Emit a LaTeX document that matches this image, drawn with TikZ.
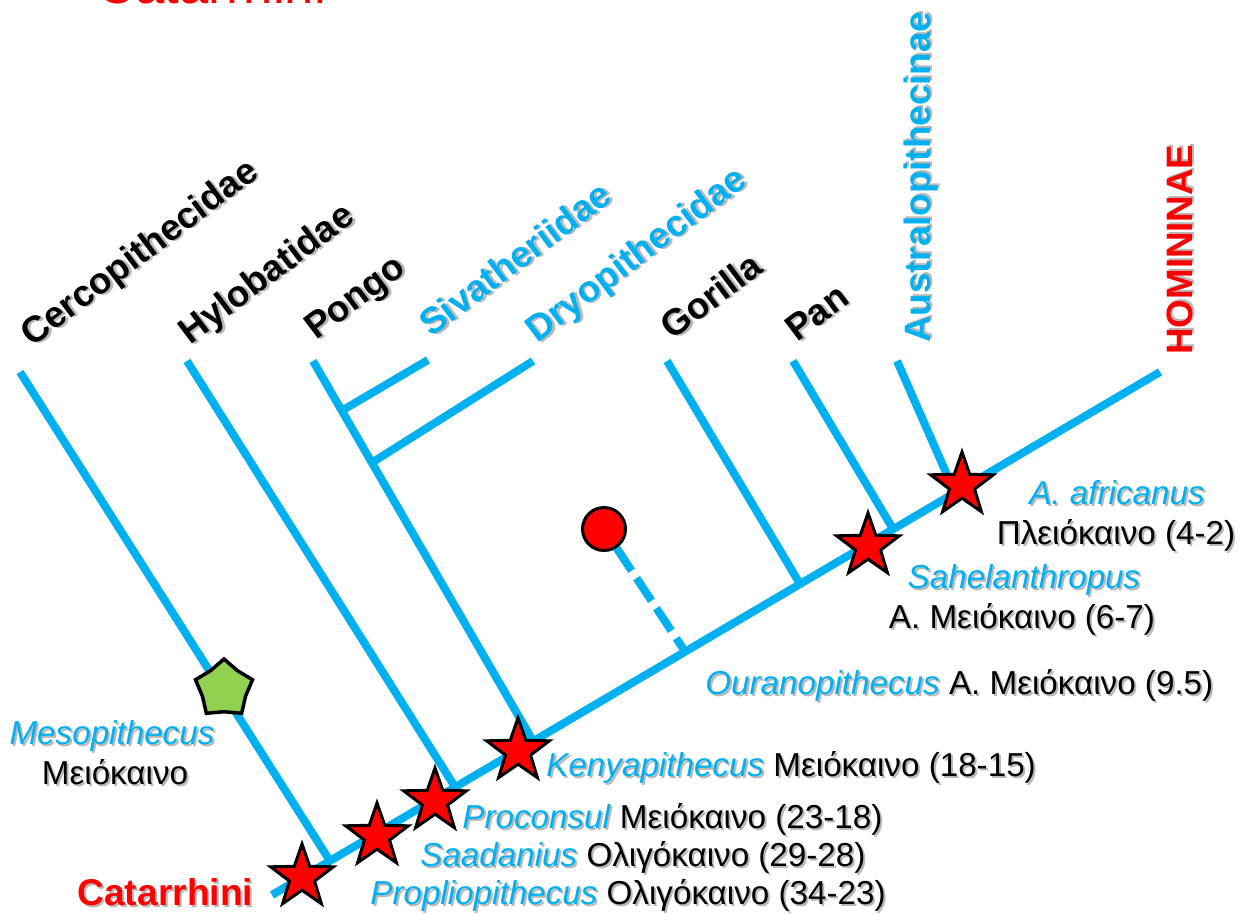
\documentclass[tikz,border=0pt]{standalone}
\usepackage{fontspec}
\setmainfont{Liberation Sans}
\usetikzlibrary{shapes.geometric}
\definecolor{cblue}{HTML}{00B0F0}
\definecolor{cred}{HTML}{FF0000}
\definecolor{cgreen}{HTML}{92D050}
\newcommand\shd[1]{\leavevmode\rlap{\kern0.04cm\raisebox{-0.04cm}{\color{black!28}#1}}#1}
\newcommand\myBody{\fontsize{18.9}{22}\selectfont}
\newcommand\myLab{\fontsize{20.9}{24}\selectfont\bfseries}
\tikzset{
  br/.style={draw=cblue, line width=0.16cm},
  lab/.style={anchor=base west, rotate=37, font=\myLab, inner sep=0},
  vlab/.style={anchor=base west, rotate=90, font=\myLab, inner sep=0},
  body/.style={font=\myBody, inner sep=0, text=black},
  fstar/.style={star, star points=5, star point ratio=2.5, fill=cred, draw=black, line width=0.06cm, minimum size=1.32cm, inner sep=0},
  pent/.style={star, star points=5, star point ratio=1.32, fill=cgreen, draw=black, line width=0.07cm, minimum size=1.2cm, inner sep=0},
  dot/.style={circle, fill=cred, draw=black, line width=0.06cm, minimum size=0.86cm, inner sep=0},
}
\begin{document}
\begin{tikzpicture}[x=0.02cm, y=-0.02cm]
\useasboundingbox (0,0) rectangle (1243,915);
\clip (0,0) rectangle (1243,915);
% coordinates
\coordinate (T0) at (272,895);
\coordinate (T1) at (1160,372);
\coordinate (bCer) at (330,861); \coordinate (tCer) at (20,372);
\coordinate (bHyl) at (455,787); \coordinate (tHyl) at (187,361);
\coordinate (bPon) at (533,741); \coordinate (tPon) at (313,361);
\coordinate (jSiv) at (343,410); \coordinate (tSiv) at (428,360);
\coordinate (jDry) at (373,462); \coordinate (tDry) at (533,361);
\coordinate (bGor) at (800,584); \coordinate (tGor) at (667,361);
\coordinate (bPan) at (893,529); \coordinate (tPan) at (793,361);
\coordinate (bAus) at (955,493); \coordinate (tAus) at (897,361);
\coordinate (bOur) at (684,650);
% tree
\draw[br] (T0) -- (T1);
\draw[br] (tCer) -- (bCer);
\draw[br] (tHyl) -- (bHyl);
\draw[br] (tPon) -- (bPon);
\draw[br] (jSiv) -- (tSiv);
\draw[br] (jDry) -- (tDry);
\draw[br] (tGor) -- (bGor);
\draw[br] (tPan) -- (bPan);
\draw[br] (tAus) -- (bAus);
\node[dot] (circ) at (604,529) {};
\draw[br, dash pattern=on 0.54cm off 0.18cm] (circ) -- (bOur);
% markers
\node[pent] (pMeso) at (224,689) {};
\node[fstar] (s1) at (302,877) {};
\node[fstar] (s2) at (377,836) {};
\node[fstar] (s3) at (435,801) {};
\node[fstar] (s4) at (518,751) {};
\node[fstar] (s5) at (868,546) {};
\node[fstar] (s6) at (962,485) {};
% top labels
\node[lab, text=black] (lCer) at (32,348) {\shd{Cercopithecidae}};
\node[lab, text=black] (lHyl) at (190,346) {\shd{Hylobatidae}};
\node[lab, text=black] (lPon) at (316,341) {\shd{Pongo}};
\node[lab, text=cblue] (lSiv) at (431,338) {\shd{Sivatheriidae}};
\node[lab, text=cblue] (lDry) at (537,344) {\shd{Dryopithecidae}};
\node[lab, text=black] (lGor) at (672,341) {\shd{Gorilla}};
\node[lab, text=black] (lPan) at (797,343) {\shd{Pan}};
\node[vlab, text=cblue] (lAus) at (930,343) {\shd{Australopithecinae}};
\node[vlab, text=cred] (lHom) at (1192,355) {\shd{HOMININAE}};
% partial heading
\node[anchor=base west, inner sep=0, text=cred, font=\fontsize{30}{36}\selectfont] (head) at (97,4) {Catarrhini};
% fossil labels
\node[body, anchor=base, text=cblue] (m1) at (112,744) {\shd{\textit{Mesopithecus}}};
\node[body, anchor=base] (m2) at (115,784) {\shd{Μειόκαινο}};
\node[anchor=base west, inner sep=0, text=cred, font=\fontsize{21.2}{25}\selectfont\bfseries] (cat) at (77,905) {\shd{Catarrhini}};
\node[body, anchor=base west] (prop) at (370,904) {{\color{cblue}\shd{\textit{Propliopithecus}}} \shd{Ολιγόκαινο (34-23)}};
\node[body, anchor=base west] (saad) at (420,866) {{\color{cblue}\shd{\textit{Saadanius}}} \shd{Ολιγόκαινο (29-28)}};
\node[body, anchor=base west] (proc) at (462,828) {{\color{cblue}\shd{\textit{Proconsul}}} \shd{Μειόκαινο (23-18)}};
\node[body, anchor=base west] (keny) at (546,776) {{\color{cblue}\shd{\textit{Kenyapithecus}}} \shd{Μειόκαινο (18-15)}};
\node[body, anchor=base west] (oura) at (705,694) {{\color{cblue}\shd{\textit{Ouranopithecus}}} \shd{Α. Μειόκαινο (9.5)}};
\node[body, anchor=base, text=cblue] (sah1) at (1024,588) {\shd{\textit{Sahelanthropus}}};
\node[body, anchor=base] (sah2) at (1022,628) {\shd{Α. Μειόκαινο (6-7)}};
\node[body, anchor=base, text=cblue] (afr1) at (1117,504) {\shd{\textit{A. africanus}}};
\node[body, anchor=base] (afr2) at (1116,544) {\shd{Πλειόκαινο (4-2)}};
\end{tikzpicture}
\end{document}
